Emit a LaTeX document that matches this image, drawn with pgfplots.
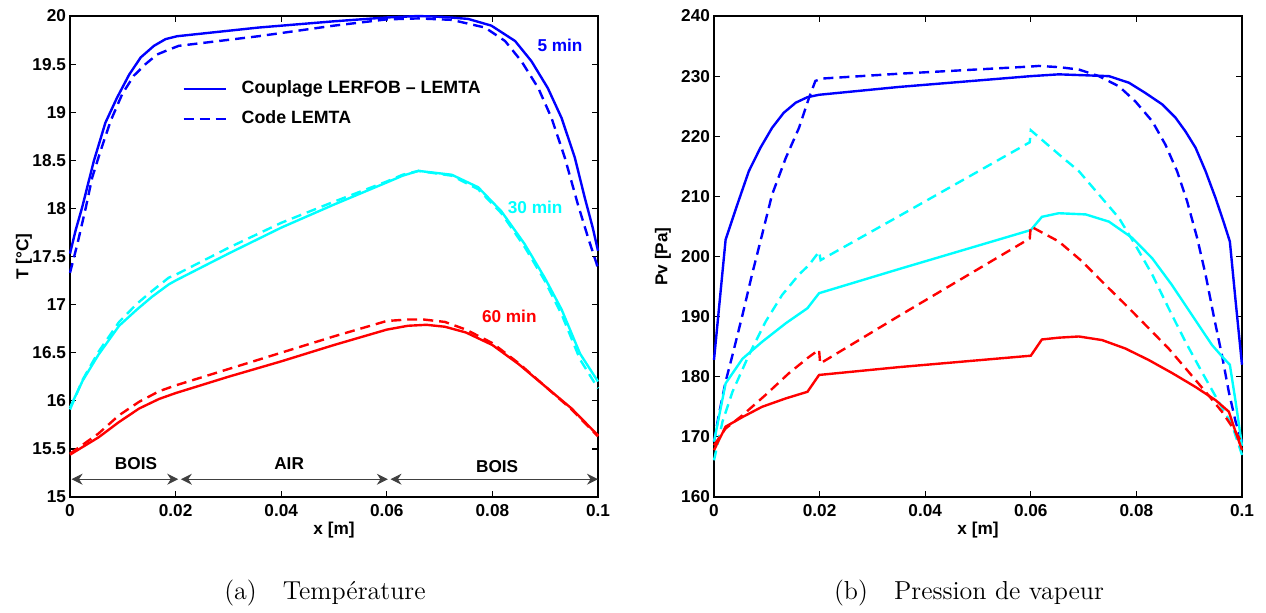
\documentclass[border=0pt]{standalone}
\usepackage{fontspec}
\usepackage{pgfplots}
\pgfplotsset{compat=1.18}
\usetikzlibrary{arrows.meta}
\newfontfamily\hv{Liberation Sans}
\newcommand{\lab}{\hv\bfseries\fontsize{8.6}{10}\selectfont}
\definecolor{mblue}{rgb}{0,0,1}
\definecolor{mcyan}{rgb}{0,1,1}
\definecolor{mred}{rgb}{1,0,0}
\tikzset{
  sol/.style={line width=1.2pt, solid},
  das/.style={line width=1.2pt, dash pattern=on 5pt off 3pt},
  arr/.style={{Stealth[length=5.5pt,width=5.5pt,inset=1.8pt]}-{Stealth[length=5.5pt,width=5.5pt,inset=1.8pt]}, line width=0.5pt, draw=black!75, fill=black},
}
\pgfplotsset{
  mat/.style={
    scale only axis, width=264pt, height=240.5pt,
    xmin=0, xmax=0.1, clip=false,
    xtick={0,0.02,0.04,0.06,0.08,0.1},
    xticklabels={0,0.02,0.04,0.06,0.08,0.1},
    tick align=inside, tick pos=both,
    major tick length=3pt,
    every tick/.style={black, line width=0.6pt},
    axis line style={line width=0.8pt},
    ticklabel style={font=\lab},
    yticklabel style={xshift=1.5pt},
    label style={font=\lab},
    /pgf/number format/assume math mode=true,
    xlabel={x [m]},
    xlabel style={at={(axis description cs:0.5,-0.0686)}, anchor=center},
  },
}
\begin{document}
\begin{tikzpicture}
\path[use as bounding box] (-35pt,-57.5pt) rectangle (598pt,248.5pt);
% ---------------- Left: Temperature
\begin{axis}[mat, at={(0pt,0pt)}, anchor=south west,
  ymin=15, ymax=20,
  ytick={15,15.5,16,16.5,17,17.5,18,18.5,19,19.5,20},
  yticklabels={15,15.5,16,16.5,17,17.5,18,18.5,19,19.5,20},
  ylabel={T [°C]},
  ylabel style={at={(axis description cs:-0.0871,0.5)}, anchor=center},
  legend style={draw=none, fill=none, at={(axis cs:0.0212,19.37)}, anchor=north west,
    font=\hv\bfseries\fontsize{8.9}{10}\selectfont, row sep=3pt, inner sep=0pt,
    /tikz/every odd column/.append style={column sep=5.5pt}},
  legend image code/.code={\draw[#1] (0pt,0pt) -- (21pt,0pt);},
  legend cell align=left]
\addplot[mblue, sol] coordinates {(0,17.53) (0.0011,17.78) (0.0023,18.01) (0.0045,18.49) (0.0067,18.89) (0.0089,19.15) (0.0112,19.39) (0.0134,19.57) (0.0159,19.69) (0.0181,19.76) (0.0203,19.79) (0.0357,19.88) (0.05,19.945) (0.06,19.985) (0.066,20.0) (0.0708,19.99) (0.0754,19.97) (0.0798,19.9) (0.0843,19.74) (0.0874,19.53) (0.0905,19.25) (0.0931,18.94) (0.0956,18.53) (0.0975,18.11) (0.099,17.8) (0.1,17.56)};
\addlegendentry{Couplage LERFOB – LEMTA}
\addplot[mblue, das] coordinates {(0,17.33) (0.0014,17.63) (0.003,18.01) (0.0042,18.32) (0.0058,18.6) (0.0077,18.91) (0.0099,19.19) (0.0121,19.38) (0.0143,19.5) (0.0165,19.6) (0.0187,19.65) (0.0206,19.69) (0.0357,19.79) (0.05,19.9) (0.06,19.965) (0.066,19.975) (0.0723,19.96) (0.0786,19.88) (0.0824,19.74) (0.0855,19.53) (0.0887,19.25) (0.0912,18.94) (0.0937,18.53) (0.0962,18.04) (0.0981,17.7) (0.1,17.38)};
\addlegendentry{Code LEMTA}
\addplot[mcyan, sol, forget plot] coordinates {(0,15.93) (0.0024,16.21) (0.0054,16.48) (0.0093,16.78) (0.0127,16.95) (0.0155,17.08) (0.0187,17.21) (0.02,17.25) (0.03,17.53) (0.04,17.8) (0.05,18.04) (0.06,18.27) (0.063,18.34) (0.066,18.39) (0.0723,18.35) (0.0773,18.22) (0.0817,17.97) (0.0861,17.63) (0.0899,17.28) (0.0931,16.95) (0.0966,16.49) (0.1,16.2)};
\addplot[mcyan, das, forget plot] coordinates {(0,15.91) (0.0024,16.22) (0.0054,16.51) (0.0093,16.82) (0.0127,17.01) (0.0155,17.14) (0.0187,17.28) (0.02,17.31) (0.03,17.59) (0.04,17.85) (0.05,18.07) (0.06,18.28) (0.063,18.35) (0.066,18.39) (0.0723,18.34) (0.0773,18.2) (0.0817,17.95) (0.0861,17.6) (0.0899,17.25) (0.0931,16.9) (0.0966,16.43) (0.1,16.13)};
\addplot[mred, sol, forget plot] coordinates {(0,15.44) (0.0054,15.62) (0.0093,15.78) (0.0131,15.92) (0.0169,16.02) (0.02,16.08) (0.03,16.25) (0.04,16.41) (0.05,16.58) (0.06,16.74) (0.064,16.78) (0.0675,16.79) (0.071,16.77) (0.075,16.71) (0.08,16.58) (0.085,16.38) (0.09,16.15) (0.095,15.92) (0.1,15.64)};
\addplot[mred, das, forget plot] coordinates {(0,15.45) (0.0054,15.66) (0.0093,15.85) (0.0131,15.99) (0.0169,16.1) (0.02,16.16) (0.03,16.33) (0.04,16.5) (0.05,16.67) (0.06,16.83) (0.064,16.845) (0.067,16.845) (0.071,16.82) (0.075,16.74) (0.08,16.6) (0.085,16.39) (0.09,16.15) (0.095,15.91) (0.1,15.63)};
\node[mblue, font=\lab] at (axis cs:0.0928,19.69) {5 min};
\node[mcyan, font=\lab] at (axis cs:0.0881,18.01) {30 min};
\node[mred, font=\lab] at (axis cs:0.0832,16.875) {60 min};
\node[font=\lab] at (axis cs:0.0125,15.345) {BOIS};
\node[font=\lab] at (axis cs:0.0415,15.345) {AIR};
\node[font=\lab] at (axis cs:0.0809,15.32) {BOIS};
\draw[arr] (axis cs:0.0003,15.185) -- (axis cs:0.0205,15.185);
\draw[arr] (axis cs:0.021,15.185) -- (axis cs:0.0602,15.185);
\draw[arr] (axis cs:0.0607,15.185) -- (axis cs:0.1,15.185);
\node[font=\fontsize{13}{15}\selectfont] at (axis description cs:0.483,-0.2) {(a)\quad Température};
\end{axis}
% ---------------- Right: vapour pressure
\begin{axis}[mat, at={(322pt,0pt)}, anchor=south west,
  ymin=160, ymax=240,
  ytick={160,170,180,190,200,210,220,230,240},
  yticklabels={160,170,180,190,200,210,220,230,240},
  ylabel={Pv [Pa]},
  ylabel style={at={(axis description cs:-0.0966,0.5)}, anchor=center}]
\addplot[mblue, sol] coordinates {(0,182.8) (0.0022,202.8) (0.0044,208.6) (0.0066,214.2) (0.0088,218.1) (0.011,221.4) (0.0132,223.9) (0.0155,225.6) (0.0177,226.5) (0.0199,226.9) (0.035,228.2) (0.06,230) (0.0653,230.3) (0.0748,230) (0.0786,228.9) (0.0817,227.2) (0.0849,225.3) (0.0874,223.1) (0.0893,220.8) (0.0912,218.1) (0.0931,214.2) (0.095,209.7) (0.0965,205.8) (0.0977,202.5) (0.0988,192.5) (0.1,182)};
\addplot[mblue, das] coordinates {(0,169.2) (0.0009,173.6) (0.0022,179.2) (0.0035,183.6) (0.0054,190.3) (0.0072,197) (0.0091,203.6) (0.011,210.3) (0.0136,216.4) (0.0161,221.4) (0.018,226.4) (0.0192,229.2) (0.0205,229.6) (0.035,230.4) (0.06,231.6) (0.0615,231.7) (0.0653,231.5) (0.0691,231.1) (0.0729,230) (0.0767,228.3) (0.0798,225.8) (0.083,222.5) (0.0855,218.6) (0.0877,214.2) (0.0896,209.2) (0.0915,203.1) (0.0931,197) (0.0946,190.3) (0.0962,183.6) (0.0975,177.5) (0.0988,172.5) (0.1,169.2)};
\addplot[mcyan, sol] coordinates {(0,169.2) (0.0022,178.9) (0.0054,183) (0.0091,185.8) (0.0136,188.9) (0.0177,191.4) (0.0199,193.9) (0.035,197.9) (0.06,204.4) (0.0621,206.6) (0.0653,207.2) (0.0704,207) (0.0748,205.8) (0.0792,203.1) (0.083,199.7) (0.0867,195.3) (0.0905,190.3) (0.0943,185.3) (0.0965,183.1) (0.0977,182) (0.0988,175.8) (0.1,168.5)};
\addplot[mcyan, das] coordinates {(0,166.1) (0.0016,172.5) (0.0035,177.5) (0.0066,183.6) (0.0098,189.2) (0.0129,193.6) (0.0161,197) (0.018,198.6) (0.0199,200.8) (0.0202,199.4) (0.035,206.7) (0.0598,219) (0.06,221) (0.0653,217) (0.0691,214.2) (0.0729,210.3) (0.0767,206.4) (0.0798,201.9) (0.083,197) (0.0861,191.4) (0.0893,185.8) (0.0924,180.8) (0.0956,175.8) (0.0981,172) (0.1,167)};
\addplot[mred, sol] coordinates {(0,167.8) (0.0022,171.7) (0.0054,173.3) (0.0091,175) (0.0136,176.4) (0.0177,177.5) (0.0199,180.3) (0.035,181.6) (0.06,183.5) (0.0621,186.2) (0.0653,186.5) (0.0691,186.7) (0.0735,186.1) (0.0779,184.7) (0.0823,182.8) (0.0868,180.6) (0.0912,178.3) (0.095,176.1) (0.0975,174.2) (0.0988,170.8) (0.1,167.8)};
\addplot[mred, das] coordinates {(0,168.6) (0.0022,171.4) (0.0054,173.6) (0.0098,177) (0.0142,180.6) (0.018,183.3) (0.0199,184.5) (0.0201,182.2) (0.035,190.1) (0.0598,203) (0.06,205) (0.0653,202.5) (0.0697,199.2) (0.0741,195.3) (0.0786,191.4) (0.0823,188.1) (0.0861,184.7) (0.0899,180.8) (0.0931,177.5) (0.0962,174.2) (0.0988,170.8) (0.1,169)};
\node[font=\fontsize{13}{15}\selectfont] at (axis description cs:0.483,-0.2) {(b)\quad Pression de vapeur};
\end{axis}
\end{tikzpicture}
\end{document}
